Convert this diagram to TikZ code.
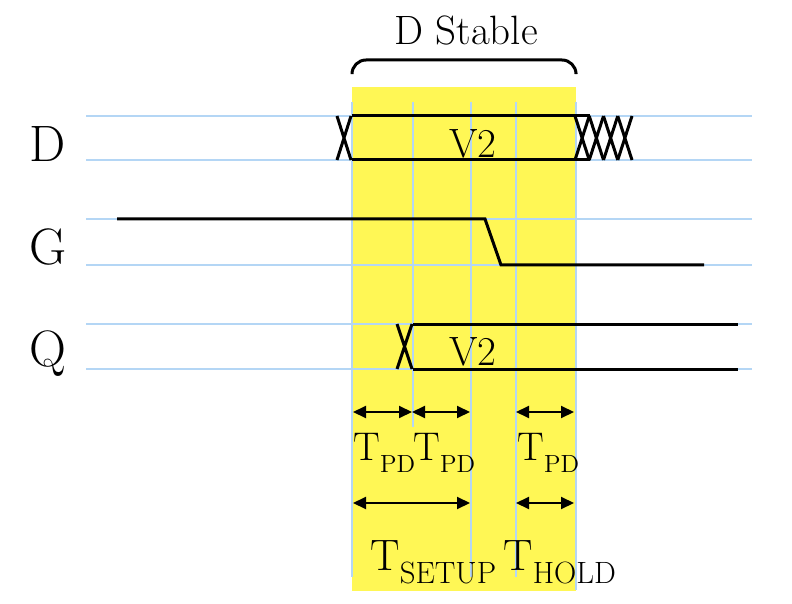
\documentclass[tikz,border=0pt]{standalone}
\usepackage{fontspec}
\usepackage{tikz}
\usetikzlibrary{arrows.meta}

\definecolor{guideblue}{RGB}{180,214,245}
\definecolor{stableyellow}{RGB}{255,247,85}

\newcommand{\tsmall}[1]{{\fontsize{20pt}{20pt}\selectfont T}\raisebox{-6pt}{\fontsize{12.4pt}{12.4pt}\selectfont #1}}
\newcommand{\tlarge}[1]{{\fontsize{22pt}{22pt}\selectfont T}\raisebox{-6.5pt}{\fontsize{15.4pt}{15.4pt}\selectfont #1}}

\begin{document}
\begin{tikzpicture}
  [x=0.5pt,y=-0.5pt,>={Triangle[length=6.5pt,width=6pt]},every node/.style={inner sep=0pt}]
  \tikzstyle{guide}=[draw=guideblue,line width=1pt]
  \tikzstyle{wave}=[draw=black,line width=1.5pt]
  \tikzstyle{span}=[<->,draw=black,line width=1pt]
  \tikzstyle{signame}=[font=\fontsize{25.6pt}{25.6pt}\selectfont,anchor=base]
  \tikzstyle{value}=[font=\fontsize{20.5pt}{20.5pt}\selectfont,anchor=base]
  \useasboundingbox (0,0) rectangle (792,604);
  \fill[stableyellow] (352,87) rectangle (576,591);
  \foreach \y in {116,160,219,265,324,369}
    \draw[guide] (86,\y) -- (752,\y);
  \foreach \x/\b in {352/577,413/427,471/577,516/577,576/590}
    \draw[guide] (\x,102) -- (\x,\b);

  % D Stable
  \node[font=\fontsize{20.5pt}{20.5pt}\selectfont,anchor=base] (title) at (466,45) {D Stable};
  \draw[wave,rounded corners=7pt] (352,73) |- (464,60) -| (576,73);

  \begin{scope}
    \node[signame] (lblD) at (48,162) {D};
    \draw[wave] (337,116) -- (351,160) (337,160) -- (351,116);
    \draw[wave] (352,116) -- (590,116) (352,160) -- (590,160);
    \foreach \i in {0,...,3}
      \draw[wave] (575+14.25*\i,116) -- (589.25+14.25*\i,160)
                  (575+14.25*\i,160) -- (589.25+14.25*\i,116);
    \node[value] (vD) at (473,158) {V2};
  \end{scope}
  \begin{scope}
    \node[signame] (lblG) at (48,264) {G};
    \draw[wave] (117,219) -- (485,219) -- (501,265) -- (704,265);
  \end{scope}
  \begin{scope}
    \node[signame] (lblQ) at (48,366) {Q};
    \draw[wave] (397,324) -- (412,369) (397,369) -- (412,324);
    \draw[wave] (413,324) -- (738,324) (413,369) -- (738,369);
    \node[value] (vQ) at (473,365) {V2};
  \end{scope}

  \coordinate (a1) at (353,412);
  \coordinate (a2) at (412,412);
  \coordinate (a3) at (470,412);
  \coordinate (a4) at (516,412);
  \coordinate (a5) at (574,412);
  \coordinate (b1) at (353,503);
  \coordinate (b3) at (470,503);
  \coordinate (b4) at (516,503);
  \coordinate (b5) at (574,503);
  \draw[span] (a1) -- (a2);
  \draw[span] (a2) -- (a3);
  \draw[span] (a4) -- (a5);
  \draw[span] (b1) -- (b3);
  \draw[span] (b4) -- (b5);

  \node[anchor=base west] (tpd1) at (353,460) {\tsmall{PD}};
  \node[anchor=base west] (tpd2) at (413,460) {\tsmall{PD}};
  \node[anchor=base west] (tpd3) at (517,460) {\tsmall{PD}};
  \node[anchor=base west] (tsetup) at (370,570) {\tlarge{SETUP}};
  \node[anchor=base west] (thold) at (503,570) {\tlarge{HOLD}};
\end{tikzpicture}
\end{document}
